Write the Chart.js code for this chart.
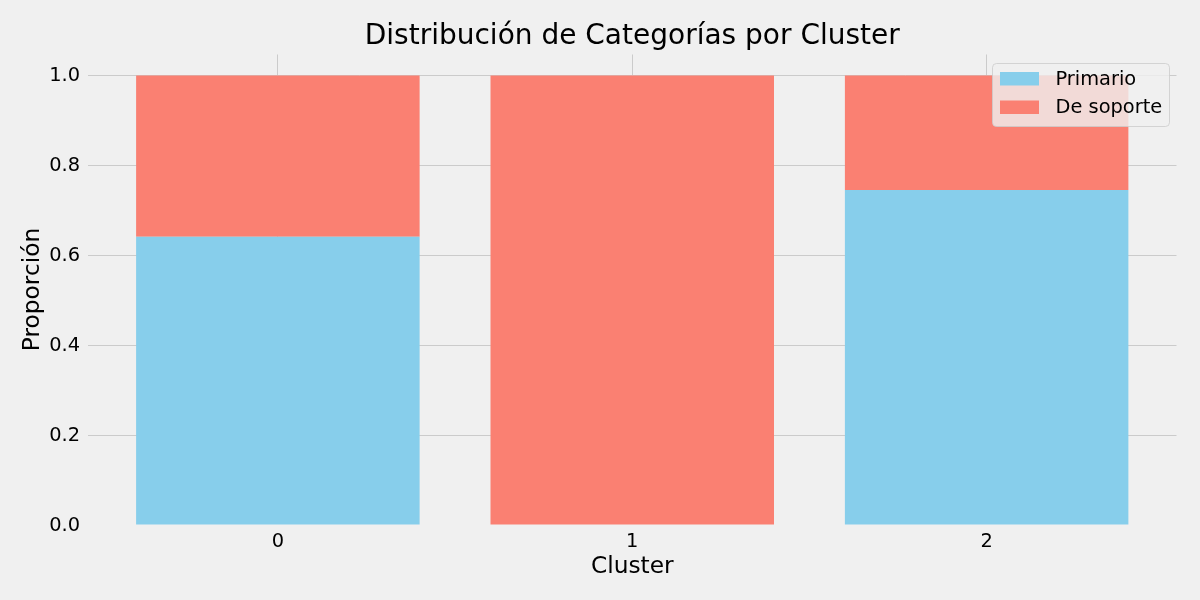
<!DOCTYPE html>
<html>
<head>
<meta charset="utf-8">
<script src="https://cdn.jsdelivr.net/npm/chart.js@4"></script>
<style>
  html, body { margin: 0; padding: 0; background: #f0f0f0; }
  #wrap { width: 1200px; height: 600px; }
  canvas { background: #f0f0f0; }
</style>
</head>
<body>
<div id="wrap"><canvas id="c" width="1200" height="600"></canvas></div>
<script>
const clusters = [0, 1, 2];
const clusterLabels = ['0', '1', '2'];
const primario = [0.642, 0.0, 0.746];
const soporte = [0.358, 1.0, 0.254];
const yTicks = [0.0, 0.2, 0.4, 0.6, 0.8, 1.0];
const seriesNames = ['Primario', 'De soporte'];
const seriesColors = ['#87CEEB', '#FA8072'];

const FONT = '"DejaVu Sans", sans-serif';

const spinePlugin = {
  id: 'spines',
  afterDatasetsDraw(chart) {
    const {ctx, chartArea: a} = chart;
    ctx.save();
    ctx.strokeStyle = '#f0f0f0';
    ctx.lineWidth = 3;
    ctx.strokeRect(a.left, a.top, a.right - a.left, a.bottom - a.top);
    ctx.restore();
  }
};

const legendPlugin = {
  id: 'innerLegend',
  afterDraw(chart) {
    const ctx = chart.ctx;
    const x = 992, y = 63, w = 177, h = 63, r = 4;
    ctx.save();
    ctx.beginPath();
    ctx.roundRect(x + 0.5, y + 0.5, w, h, r);
    ctx.fillStyle = 'rgba(240,240,240,0.8)';
    ctx.fill();
    ctx.strokeStyle = 'rgba(204,204,204,0.8)';
    ctx.lineWidth = 1;
    ctx.stroke();
    ctx.font = '19.4px ' + FONT;
    ctx.textBaseline = 'middle';
    ctx.textAlign = 'left';
    chart.data.datasets.forEach((ds, i) => {
      const cy = 78.5 + i * 28.5;
      ctx.fillStyle = ds.backgroundColor;
      ctx.fillRect(1000, cy - 6.5, 39, 13.5);
      ctx.fillStyle = '#000';
      ctx.fillText(ds.label, 1055.5, cy + 1);
    });
    ctx.restore();
  }
};

new Chart(document.getElementById('c'), {
  type: 'bar',
  data: {
    datasets: [
      { label: seriesNames[0], data: primario.map((v, i) => ({x: clusters[i], y: v})), backgroundColor: seriesColors[0], borderWidth: 0 },
      { label: seriesNames[1], data: soporte.map((v, i) => ({x: clusters[i], y: v})), backgroundColor: seriesColors[1], borderWidth: 0 }
    ]
  },
  options: {
    responsive: false,
    animation: false,
    layout: { padding: { left: 0, right: 22, top: 0, bottom: 0 } },
    datasets: { bar: { barPercentage: 0.8, categoryPercentage: 1.0 } },
    plugins: {
      legend: { display: false },
      tooltip: { enabled: false },
      title: {
        display: true,
        fullSize: false,
        text: 'Distribución de Categorías por Cluster',
        color: '#000',
        font: { family: FONT, size: 28, weight: 'normal' },
        padding: { top: 20, bottom: -0.6 }
      }
    },
    scales: {
      x: {
        type: 'linear',
        stacked: true,
        offset: false,
        min: -0.54,
        max: 2.54,
        afterBuildTicks: (s) => { s.ticks = clusters.map(v => ({value: v})); },
        afterFit: (s) => { s.height = 74; },
        ticks: {
          color: '#000',
          font: { family: FONT, size: 19.4 },
          padding: 4,
          callback: (v) => clusterLabels[clusters.indexOf(v)]
        },
        grid: { color: '#cbcbcb', lineWidth: 1, drawTicks: false, offset: false },
        border: { display: false },
        title: {
          display: true, text: 'Cluster', color: '#000',
          font: { family: FONT, size: 23.3 },
          padding: { top: 0, bottom: 19 }
        }
      },
      y: {
        stacked: true,
        min: 0,
        max: 1.05,
        afterBuildTicks: (s) => { s.ticks = yTicks.map(v => ({value: v})); },
        afterFit: (s) => { s.width = 86.5; },
        ticks: {
          color: '#000',
          font: { family: FONT, size: 19.4 },
          padding: 6.5,
          callback: (v) => Number(v).toFixed(1)
        },
        grid: { color: '#cbcbcb', lineWidth: 1, drawTicks: false },
        border: { display: false },
        title: {
          display: true, text: 'Proporción', color: '#000',
          font: { family: FONT, size: 23.3 },
          padding: { top: 19, bottom: 0 }
        }
      }
    }
  },
  plugins: [spinePlugin, legendPlugin]
});
</script>
</body>
</html>
